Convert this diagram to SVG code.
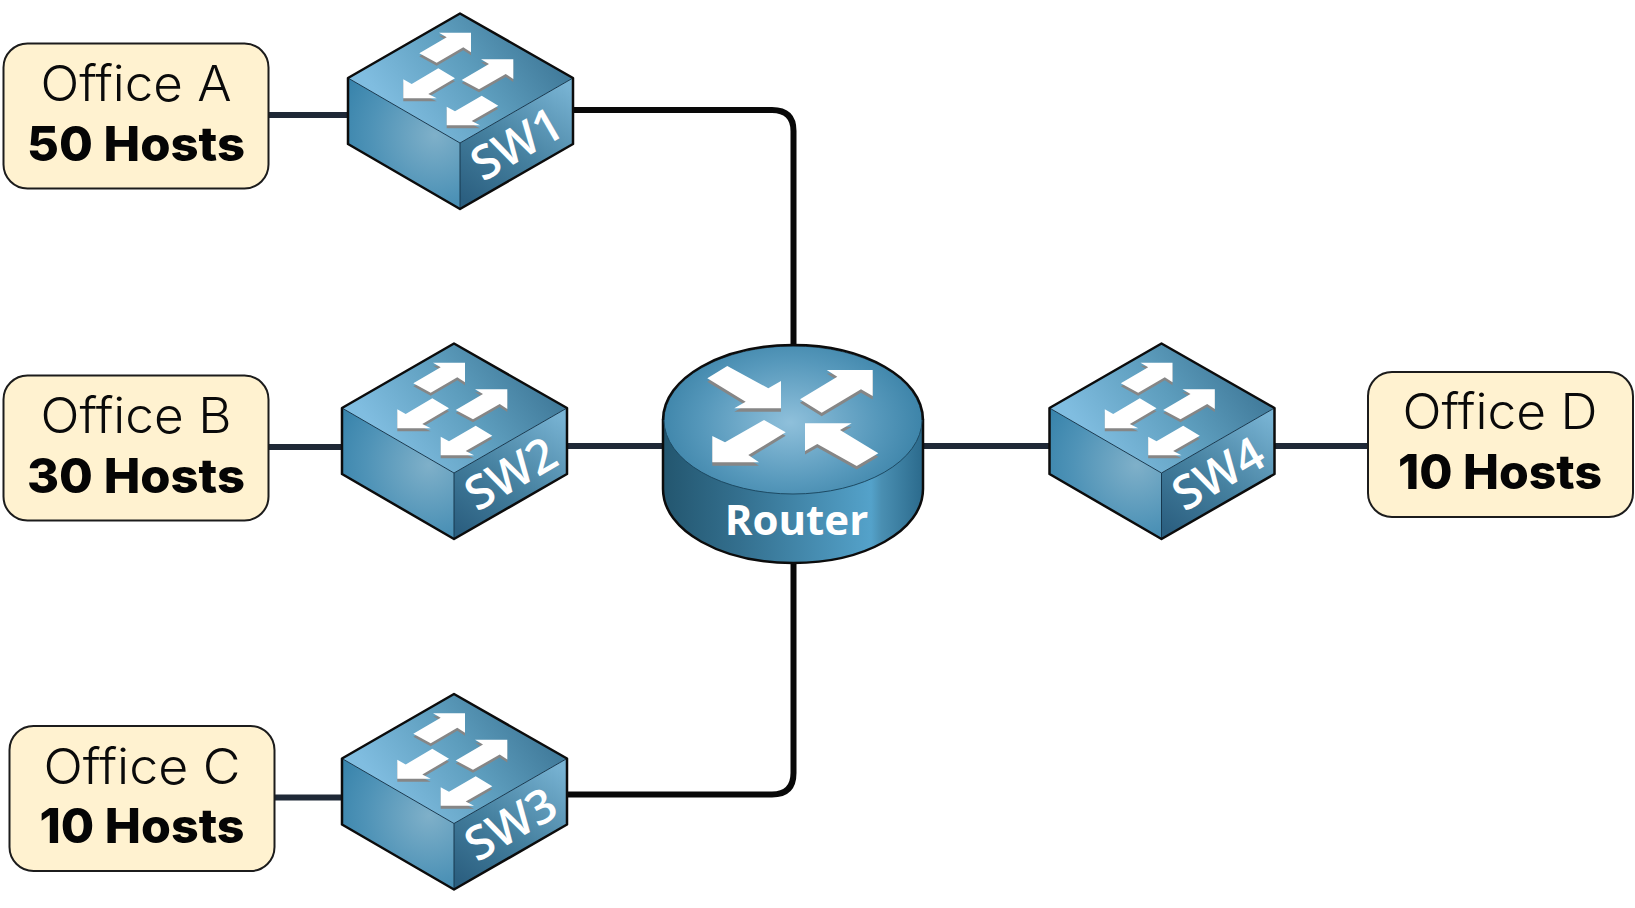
<svg xmlns="http://www.w3.org/2000/svg" xmlns:xlink="http://www.w3.org/1999/xlink" width="1635" height="908" viewBox="0 0 1635 908">
<style>
.box{fill:#fff2d0;stroke:#1c1c1c;stroke-width:2}
.t1{font-family:"Inter","Liberation Sans",sans-serif;font-weight:300;font-size:49px;fill:#0a0a0a;text-anchor:middle}
.t2{font-family:"Inter","Liberation Sans",sans-serif;font-weight:800;font-size:48px;fill:#050505;text-anchor:middle}
.lbl{font-family:"Open Sans","Liberation Sans",sans-serif;font-weight:600;fill:#fff;text-anchor:middle}
.rl{font-weight:700}
.dark{fill:none;stroke:#1f2937;stroke-width:6}
.black{fill:none;stroke:#080808;stroke-width:6}
.edge{stroke:#0c0c0c;stroke-width:2.500;stroke-linejoin:round}
.inner{stroke:#17384f;stroke-width:1;fill:none}
.ar{fill:#fff}
.sh{fill:#868686}
</style>
<defs>
<linearGradient id="swTop" gradientUnits="userSpaceOnUse" x1="400" y1="125" x2="530" y2="30">
<stop offset="0" stop-color="#80bde0"/><stop offset="0.55" stop-color="#5d9dbd"/><stop offset="1" stop-color="#427c9c"/>
</linearGradient>
<radialGradient id="swLeft" gradientUnits="userSpaceOnUse" cx="435" cy="135" r="115">
<stop offset="0" stop-color="#7fb0c9"/><stop offset="0.55" stop-color="#4f93b7"/><stop offset="1" stop-color="#2f7da6"/>
</radialGradient>
<linearGradient id="swRight" gradientUnits="userSpaceOnUse" x1="560" y1="80" x2="470" y2="205">
<stop offset="0" stop-color="#78b3d3"/><stop offset="0.55" stop-color="#45809f"/><stop offset="1" stop-color="#2b5f80"/>
</linearGradient>
<radialGradient id="rTop" gradientUnits="userSpaceOnUse" cx="790" cy="425" r="135" gradientTransform="translate(0 125) scale(1 0.7)">
<stop offset="0" stop-color="#8fc0db"/><stop offset="0.65" stop-color="#5698bb"/><stop offset="1" stop-color="#3c83a8"/>
</radialGradient>
<linearGradient id="rSide" x1="0" y1="0" x2="1" y2="0">
<stop offset="0" stop-color="#23566f"/><stop offset="0.3" stop-color="#34708f"/><stop offset="0.8" stop-color="#54a2ca"/><stop offset="0.84" stop-color="#4a8fb2"/><stop offset="1" stop-color="#2b6a8c"/>
</linearGradient>
<g id="switch">
<polygon points="460,13.500 573,78 460,143 348,78" fill="url(#swTop)"/>
<polygon points="348,78 460,143 460,209 348,144" fill="url(#swLeft)"/>
<polygon points="573,78 460,143 460,209 573,144" fill="url(#swRight)"/>
<path class="inner" d="M348,78 L460,143 L573,78 M460,143 V209"/>
<polygon points="460,13.500 573,78 573,144 460,209 348,144 348,78" fill="none" class="edge"/>
<g class="sh" transform="translate(0 3)">
<polygon points="419.300,53.300 446.700,37.300 439,32.700 471,32.700 471,52.300 463.300,47.300 436.700,62.700"/>
<polygon points="461.700,80 489,64 481,59.300 513.300,59.300 513.300,79 505.700,74 479,89.300"/>
<polygon points="455,78.300 428.300,94 436.700,98.300 403.300,98.300 403.300,79.300 411.700,84 438.300,68.300"/>
<polygon points="498.300,105.700 471.700,121 480,125.300 446.700,125.300 446.700,106.700 455,111.300 481.700,95.700"/>
</g>
<g class="ar">
<polygon points="419.300,53.300 446.700,37.300 439,32.700 471,32.700 471,52.300 463.300,47.300 436.700,62.700"/>
<polygon points="461.700,80 489,64 481,59.300 513.300,59.300 513.300,79 505.700,74 479,89.300"/>
<polygon points="455,78.300 428.300,94 436.700,98.300 403.300,98.300 403.300,79.300 411.700,84 438.300,68.300"/>
<polygon points="498.300,105.700 471.700,121 480,125.300 446.700,125.300 446.700,106.700 455,111.300 481.700,95.700"/>
</g>
</g>
</defs>
<g id="connectors">
<path class="dark" d="M268,115 H348"/>
<path class="black" d="M573,110 H772 Q793.500,110 793.500,131 V345"/>
<path class="dark" d="M268,447 H342"/>
<path class="dark" d="M567,446 H663"/>
<path class="dark" d="M274,797.500 H342"/>
<path class="black" d="M567,794.500 H772 Q793.500,794.500 793.500,773 V562"/>
<path class="dark" d="M923,446 H1049"/>
<path class="dark" d="M1274,446 H1368"/>
</g>
<g id="office-a"><rect class="box" x="3.500" y="43.500" width="265" height="145" rx="24"/><text class="t1" x="136" y="100.500" textLength="191" lengthAdjust="spacingAndGlyphs">Office A</text><text class="t2" x="136" y="160.500" textLength="218" lengthAdjust="spacingAndGlyphs">50 Hosts</text></g>
<g id="office-b"><rect class="box" x="3.500" y="375.500" width="265" height="145" rx="24"/><text class="t1" x="136" y="432.500" textLength="191" lengthAdjust="spacingAndGlyphs">Office B</text><text class="t2" x="136" y="492.500" textLength="218" lengthAdjust="spacingAndGlyphs">30 Hosts</text></g>
<g id="office-c"><rect class="box" x="9.500" y="726" width="265" height="145" rx="24"/><text class="t1" x="142" y="783.500" textLength="197" lengthAdjust="spacingAndGlyphs">Office C</text><text class="t2" x="142" y="843" textLength="205" lengthAdjust="spacingAndGlyphs">10 Hosts</text></g>
<g id="office-d"><rect class="box" x="1368" y="372" width="265" height="145" rx="24"/><text class="t1" x="1500" y="429" textLength="195" lengthAdjust="spacingAndGlyphs">Office D</text><text class="t2" x="1500" y="488.500" textLength="204" lengthAdjust="spacingAndGlyphs">10 Hosts</text></g>
<g id="sw1"><use href="#switch"/><text class="lbl" font-size="47" transform="translate(525 158) rotate(-30)">SW1</text></g>
<g id="sw2"><use href="#switch" transform="translate(-6 330)"/><text class="lbl" font-size="47" transform="translate(519 488) rotate(-30)">SW2</text></g>
<g id="sw3"><use href="#switch" transform="translate(-6 680.500)"/><text class="lbl" font-size="47" transform="translate(519 838.500) rotate(-30)">SW3</text></g>
<g id="sw4"><use href="#switch" transform="translate(701.500 330)"/><text class="lbl" font-size="47" transform="translate(1226.500 488) rotate(-30)">SW4</text></g>
<g id="router">
<path d="M663,420 V489 C663,531 722,563 793,563 C864,563 923,531 923,489 V420 Z" fill="url(#rSide)" class="edge"/>
<ellipse cx="793" cy="420" rx="129" ry="74" fill="url(#rTop)" stroke="#1d4a63" stroke-width="1"/>
<path d="M663,420 C663,378 722,345 793,345 C864,345 923,378 923,420" fill="none" class="edge"/>
<g class="sh" transform="translate(0 3.500)">
<polygon points="707.300,378.300 727.300,366 768.300,388.300 781,381 781,408.300 734.300,408.300 745.700,401.700"/>
<polygon points="800,399.300 837.300,376.700 826.700,370 872.700,370 872.700,396 861,389.300 821.700,412.700"/>
<polygon points="785.700,432.300 748.300,455 759,462.300 712.300,462.300 712.300,436 725,442.300 764,420"/>
<polygon points="805,423.300 851.700,423.300 840,430 878.300,453.300 856.700,466 817.300,444 805,451"/>
</g>
<g class="ar">
<polygon points="707.300,378.300 727.300,366 768.300,388.300 781,381 781,408.300 734.300,408.300 745.700,401.700"/>
<polygon points="800,399.300 837.300,376.700 826.700,370 872.700,370 872.700,396 861,389.300 821.700,412.700"/>
<polygon points="785.700,432.300 748.300,455 759,462.300 712.300,462.300 712.300,436 725,442.300 764,420"/>
<polygon points="805,423.300 851.700,423.300 840,430 878.300,453.300 856.700,466 817.300,444 805,451"/>
</g>
<text class="lbl rl" x="796.500" y="535" font-size="42">Router</text>
</g>
</svg>
